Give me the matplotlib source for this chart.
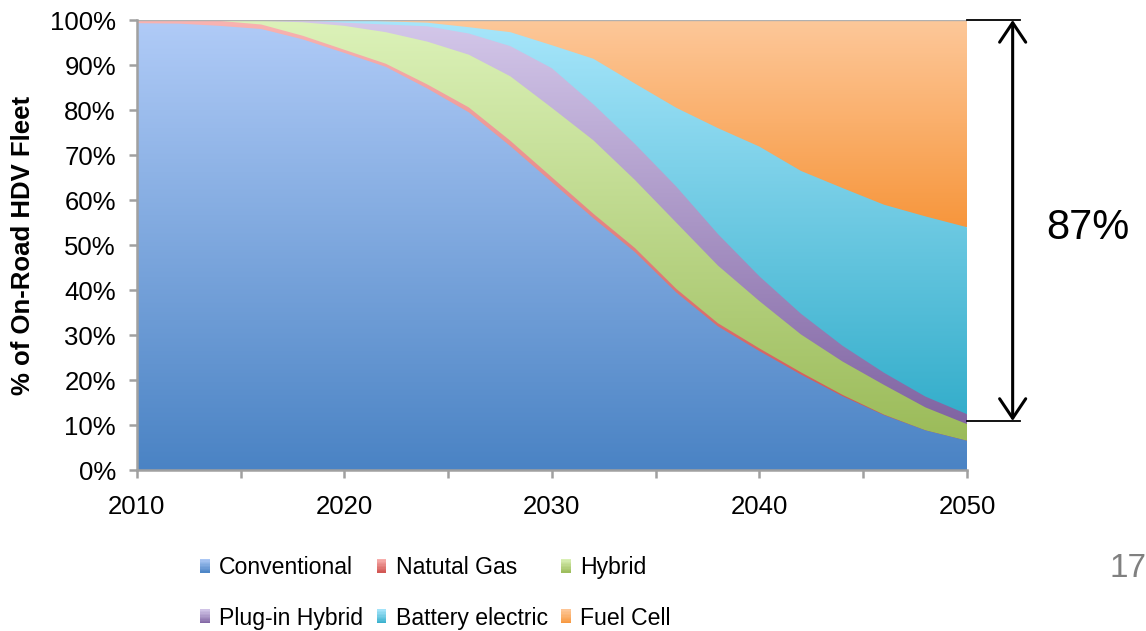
import numpy as np
import matplotlib
matplotlib.use('Agg')
import matplotlib.pyplot as plt
from matplotlib.colors import LinearSegmentedColormap, to_rgb
from matplotlib.legend_handler import HandlerBase
from matplotlib.patches import Rectangle

plt.rcParams['font.family'] = ['Liberation Sans', 'DejaVu Sans']

# share of on-road HDV fleet (%)
years = [2010, 2012, 2014, 2016, 2018, 2020, 2022, 2024, 2026, 2028, 2030,
         2032, 2034, 2036, 2038, 2040, 2042, 2044, 2046, 2048, 2050]
conventional = [99.3, 99.2, 98.7, 98.0, 95.7, 92.7, 89.6, 84.8, 79.5, 72.0, 64.0,
                56.0, 48.5, 39.5, 32.0, 26.5, 21.3, 16.5, 12.3, 8.9, 6.6]
natural_gas = [0.7, 0.8, 1.1, 1.0, 0.8, 0.7, 0.7, 0.9, 1.1, 1.2, 1.1,
               1.0, 0.9, 0.8, 0.7, 0.6, 0.5, 0.3, 0.1, 0.0, 0.0]
hybrid = [0.0, 0.0, 0.2, 0.8, 3.0, 5.3, 7.0, 9.5, 11.7, 14.3, 15.4,
          16.3, 15.1, 14.7, 12.8, 10.5, 8.4, 7.4, 6.6, 5.1, 3.7]
plugin_hybrid = [0.0, 0.0, 0.0, 0.2, 0.4, 0.7, 1.7, 3.4, 4.7, 6.7, 8.8,
                 8.0, 8.0, 8.0, 7.0, 5.5, 4.6, 3.5, 2.7, 2.4, 2.2]
battery_electric = [0.0, 0.0, 0.0, 0.0, 0.1, 0.6, 0.7, 0.8, 1.4, 3.1, 5.1,
                    10.1, 13.4, 17.5, 23.5, 28.8, 31.7, 35.0, 37.3, 40.0, 41.5]
fuel_cell = [0.0, 0.0, 0.0, 0.0, 0.0, 0.0, 0.3, 0.6, 1.6, 2.7, 5.6,
             8.6, 14.1, 19.5, 24.0, 28.1, 33.5, 37.3, 41.0, 43.6, 46.0]

labels = ['Conventional', 'Natutal Gas', 'Hybrid',
          'Plug-in Hybrid', 'Battery electric', 'Fuel Cell']
top_colors = ['#b0cbf7', '#f9b3b1', '#dcf2b9', '#d4c8ea', '#a8e6fb', '#fdc89a']
bottom_colors = ['#4a83c4', '#d0534f', '#9bbb59', '#8064a2', '#35aecb', '#f7963c']

series = np.array([conventional, natural_gas, hybrid,
                   plugin_hybrid, battery_electric, fuel_cell])
tops = np.cumsum(series, axis=0)
x = np.array(years)

fig = plt.figure(figsize=(11.46, 6.31), dpi=100)
ax = fig.add_axes([0.1193, 0.2544, 0.7245, 0.7139])

# gradient bands, drawn top-down so each lower band covers from 0 up
grad = np.linspace(0, 1, 256).reshape(-1, 1)
for i in range(len(series) - 1, -1, -1):
    lower = tops[i - 1] if i > 0 else np.zeros_like(x, dtype=float)
    upper = tops[i]
    poly = ax.fill_between(x, 0, upper, facecolor='none', edgecolor='none', lw=0)
    cmap = LinearSegmentedColormap.from_list('g%d' % i, [bottom_colors[i], top_colors[i]])
    im = ax.imshow(grad, extent=[2010, 2050, lower.min(), upper.max()],
                   origin='lower', aspect='auto', cmap=cmap, zorder=1,
                   interpolation='bilinear')
    im.set_clip_path(poly.get_paths()[0], transform=ax.transData)

ax.set_xlim(2010, 2050)
ax.set_ylim(0, 100)
ax.axhline(100, color='#b0b0b0', lw=1, zorder=2)

for s in ['top', 'right']:
    ax.spines[s].set_visible(False)
for s in ['left', 'bottom']:
    ax.spines[s].set_color('#a0a0a0')
    ax.spines[s].set_linewidth(1.8)
    ax.spines[s].set_zorder(3)

ax.set_yticks(range(0, 101, 10))
ax.set_yticklabels(['%d%%' % v for v in range(0, 101, 10)])
ax.set_xticks(range(2010, 2051, 5))
ax.set_xticklabels([str(v) if v % 10 == 0 else '' for v in range(2010, 2051, 5)])
ax.tick_params(axis='both', direction='out', length=6, width=1.8,
               color='#a0a0a0', labelsize=18.5)
ax.tick_params(axis='x', pad=12)
ax.tick_params(axis='y', pad=9)

ax.set_ylabel('% of On-Road HDV Fleet', fontsize=18.5, fontweight='bold', va='center')
ax.yaxis.set_label_coords(-0.137, 0.5)

# 87% bracket on the right
ax.plot([2050, 2052.55], [100, 100], color='black', lw=1.3, clip_on=False)
ax.plot([2050, 2052.55], [11, 11], color='black', lw=1.3, clip_on=False)
ax.annotate('', xy=(2052.2, 100), xytext=(2052.2, 11),
            arrowprops=dict(arrowstyle='<->,head_length=0.7,head_width=0.47',
                            lw=2.2, color='black', shrinkA=0, shrinkB=0,
                            mutation_scale=20),
            annotation_clip=False)
fig.text(1088 / 1146, 1 - 228 / 631, '87%', fontsize=30, ha='center', va='center')
fig.text(1109 / 1146, 1 - 577 / 631, '17', fontsize=24, color='#808080',
         ha='left', va='baseline')


class GradKey:
    def __init__(self, top, bottom):
        self.top = top
        self.bottom = bottom


class GradHandler(HandlerBase):
    def create_artists(self, legend, orig_handle, xdescent, ydescent,
                       width, height, fontsize, trans):
        top = np.array(to_rgb(orig_handle.top))
        bot = np.array(to_rgb(orig_handle.bottom))
        n = 10
        arts = []
        for k in range(n):
            c = bot + (top - bot) * (k + 0.5) / n
            r = Rectangle((-xdescent, -ydescent + height * k / n), width,
                          height / n * 1.05, facecolor=c, edgecolor='none',
                          transform=trans)
            arts.append(r)
        return arts


keys = [GradKey(t, b) for t, b in zip(top_colors, bottom_colors)]
order = [0, 3, 1, 4, 2, 5]
fig.legend([keys[i] for i in order], [labels[i] for i in order],
           handler_map={GradKey: GradHandler()},
           loc='upper left', bbox_to_anchor=(200 / 1146, 1 - 556 / 631),
           ncol=3, frameon=False, fontsize=16.6, borderpad=0, borderaxespad=0,
           handlelength=0.42, handleheight=0.55, handletextpad=0.4,
           columnspacing=0.6, labelspacing=1.2)

fig.savefig('out.png', dpi=100)
